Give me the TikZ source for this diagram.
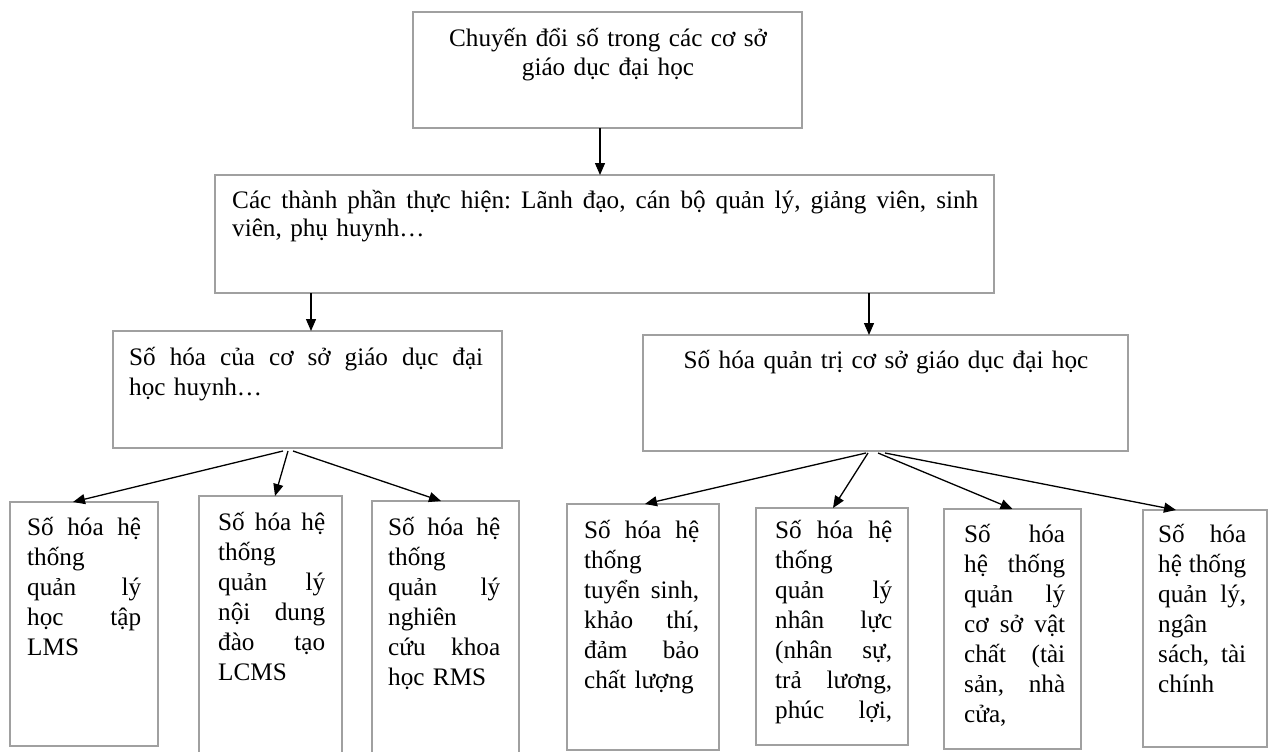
\documentclass[tikz,border=0pt]{standalone}
\usepackage{fontspec}
\setmainfont{Liberation Serif}
\usetikzlibrary{arrows.meta}
\definecolor{boxgray}{HTML}{A0A0A0}
\newcommand\jl[1]{{\frenchspacing\spaceskip=\fontdimen2\font plus 1fill\relax #1}}
\newcommand\bodyfont{\fontsize{25.2pt}{30pt}\selectfont}
\tikzset{
  box/.style={draw=boxgray, line width=1.4pt, inner sep=0pt, outer sep=0pt, anchor=north west, fill=white},
  txt/.style={anchor=base west, inner sep=0pt, align=left, font=\bodyfont},
  ctxt/.style={anchor=base, inner sep=0pt, align=center},
  arr/.style={draw=black, line width=1.3pt, -{Triangle[length=12pt,width=10pt]}}
}
\begin{document}
\begin{tikzpicture}[x=1pt,y=-1pt]
\clip (0,0) rectangle (1272,752);
\fill[white] (0,0) rectangle (1272,752);
% boxes
\node[box, minimum width=389pt, minimum height=116pt] (top) at (413,12) {};
\node[box, minimum width=779pt, minimum height=118pt] (mid) at (215,175) {};
\node[box, minimum width=389pt, minimum height=117pt] (L) at (113,331) {};
\node[box, minimum width=485pt, minimum height=116pt] (R) at (643,335) {};
\node[box, minimum width=148pt, minimum height=244pt] (b1) at (10,502) {};
\node[box, minimum width=143pt, minimum height=280pt] (b2) at (199,496) {};
\node[box, minimum width=147pt, minimum height=280pt] (b3) at (372,501) {};
\node[box, minimum width=152pt, minimum height=246pt] (b4) at (567,504) {};
\node[box, minimum width=152pt, minimum height=237pt] (b5) at (756,508) {};
\node[box, minimum width=137pt, minimum height=240pt] (b6) at (944,509) {};
\node[box, minimum width=124pt, minimum height=237pt] (b7) at (1143,510) {};
% texts
\node[ctxt, font=\fontsize{25.2pt}{29pt}\selectfont, text width=380pt] (ttop) at (608,47) {Chuyến đổi số trong các cơ sở\\giáo dục đại học};
\node[txt, font=\fontsize{25.2pt}{28pt}\selectfont, text width=746pt] (tmid) at (232,208) {\jl{Các thành phần thực hiện: Lãnh đạo, cán bộ quản lý, giảng viên, sinh}\\viên, phụ huynh…};
\node[txt, text width=354pt] (tL) at (129,365) {\jl{Số hóa của cơ sở giáo dục đại}\\học huynh…};
\node[ctxt, font=\bodyfont, text width=470pt] (tR) at (886,368) {Số hóa quản trị cơ sở giáo dục đại học};
\node[txt, text width=114pt] (t1) at (27,535) {\jl{Số hóa hệ}\\thống\\\jl{quản lý}\\\jl{học tập}\\LMS};
\node[txt, text width=107pt] (t2) at (218,530) {\jl{Số hóa hệ}\\thống\\\jl{quản lý}\\\jl{nội dung}\\\jl{đào tạo}\\LCMS};
\node[txt, text width=112pt] (t3) at (388,535) {\jl{Số hóa hệ}\\thống\\\jl{quản lý}\\nghiên\\\jl{cứu khoa}\\học RMS};
\node[txt, text width=115pt] (t4) at (584,538) {\jl{Số hóa hệ}\\thống\\\jl{tuyển sinh,}\\\jl{khảo thí,}\\\jl{đảm bảo}\\chất lượng};
\node[txt, text width=117pt] (t5) at (775,538) {\jl{Số hóa hệ}\\thống\\\jl{quản lý}\\\jl{nhân lực}\\\jl{(nhân sự,}\\\jl{trả lương,}\\\jl{phúc lợi,}};
\node[txt, text width=101pt] (t6) at (964,542) {\jl{Số hóa}\\\jl{hệ thống}\\\jl{quản lý}\\\jl{cơ sở vật}\\\jl{chất (tài}\\\jl{sản, nhà}\\cửa,};
\node[txt, text width=88pt] (t7) at (1158,542) {\jl{Số hóa}\\\jl{hệ thống}\\\jl{quản lý,}\\ngân\\\jl{sách, tài}\\chính};
% connectors
\draw[arr] ([xshift=-7.5pt]top.south) -- ([xshift=-4.5pt]mid.north);
\draw[arr] ([xshift=-293.5pt]mid.south) -- ([xshift=3.5pt]L.north);
\draw[arr] ([xshift=264.5pt]mid.south) -- ([xshift=-16.5pt]R.north);
\draw[arr] ([xshift=-24.5pt,yshift=-3pt]L.south) -- ([xshift=-11pt]b1.north);
\draw[arr] ([xshift=-19.5pt,yshift=-3pt]L.south) -- ([xshift=4.5pt]b2.north);
\draw[arr] ([xshift=-14.5pt,yshift=-3pt]L.south) -- ([xshift=-4.5pt]b3.north);
\draw[arr] ([xshift=-19.5pt,yshift=-2pt]R.south) -- ([xshift=2pt]b4.north);
\draw[arr] ([xshift=-17.5pt,yshift=-2pt]R.south) -- ([xshift=1pt]b5.north);
\draw[arr] ([xshift=-7.5pt,yshift=-2pt]R.south) -- ([xshift=0pt]b6.north);
\draw[arr] ([xshift=-0.5pt,yshift=-2pt]R.south) -- ([xshift=-29pt]b7.north);
\end{tikzpicture}
\end{document}
